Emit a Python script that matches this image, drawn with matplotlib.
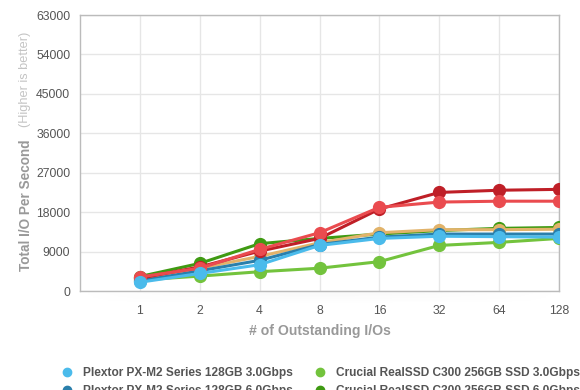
import numpy as np
import matplotlib.pyplot as plt

plt.rcParams["font.family"] = ["Liberation Sans", "DejaVu Sans"]

queue_depths = ["1", "2", "4", "8", "16", "32", "64", "128"]

plextor_3g = [2000, 4000, 6000, 10400, 12000, 12500, 12400, 12300]
plextor_6g = [2300, 4600, 7000, 10600, 12300, 13000, 13000, 13000]
c300_3g = [2500, 3400, 4400, 5200, 6700, 10400, 11100, 12000]
c300_6g = [3300, 6300, 10800, 12000, 13000, 13800, 14300, 14500]
orange_series = [3000, 5200, 7900, 11000, 13300, 14000, 14000, 14100]
red_series = [3200, 5200, 9500, 13300, 19100, 20300, 20500, 20500]
darkred_series = [2900, 5500, 9100, 12000, 18700, 22500, 23000, 23200]

y_ticks = [0, 9000, 18000, 27000, 36000, 45000, 54000, 63000]

# (label, values, colour) in legend order: column 1 then column 2
series = [
    ("Plextor PX-M2 Series 128GB 3.0Gbps", plextor_3g, "#4bbbeb"),
    ("Plextor PX-M2 Series 128GB 6.0Gbps", plextor_6g, "#2a7fab"),
    ("Plextor PX-M2 Series 256GB 6.0Gbps", orange_series, "#e2b36a"),
    ("OCZ Vertex 2 120GB 3.0Gbps", red_series, "#ea4b4f"),
    ("Crucial RealSSD C300 256GB SSD 3.0Gbps", c300_3g, "#73c33d"),
    ("Crucial RealSSD C300 256GB SSD 6.0Gbps", c300_6g, "#3f9a12"),
    ("OCZ Vertex 2 120GB 6.0Gbps", darkred_series, "#bf1f27"),
]
zorders = [9, 6, 5, 8, 4, 3, 7]

fig = plt.figure(figsize=(5.8, 3.9), dpi=100)

# faint shadow under the plot area
sh = fig.add_axes([80 / 580, (390 - 303) / 390, 479 / 580, 12 / 390])
grad = np.linspace(1, 0, 20)[:, None] * np.sin(np.linspace(0, np.pi, 200))[None, :]
sh.imshow(grad, aspect="auto", cmap="Greys", vmin=0, vmax=12, alpha=0.6)
sh.axis("off")

ax = fig.add_axes([80 / 580, 99 / 390, 479 / 580, 276 / 390])

x = list(range(len(queue_depths)))
handles = []
for (label, vals, col), z in zip(series, zorders):
    h, = ax.plot(x, vals, color=col, lw=2.2, marker="o", ms=8.5,
                 mec=col, label=label, zorder=z, solid_capstyle="round")
    handles.append(h)

ax.set_xlim(-1, 7)
ax.set_ylim(0, 63000)
ax.set_xticks(x)
ax.set_xticklabels(queue_depths)
ax.set_yticks(y_ticks)
ax.set_yticklabels([str(v) for v in y_ticks])
ax.tick_params(length=0, labelsize=8.8, colors="#555555", pad=7)
ax.tick_params(axis="x", pad=10)
ax.grid(True, color="#e6e6e6", lw=1)
ax.set_axisbelow(True)
for s in ax.spines.values():
    s.set_color("#bbbbbb")
    s.set_linewidth(1)

fig.text(320 / 580, 1 - 331 / 390, "# of Outstanding I/Os", ha="center",
         va="center", fontsize=10.1, fontweight="bold", color="#999999")
fig.text(26 / 580, 1 - 271 / 390, "Total I/O Per Second", rotation=90,
         ha="center", va="bottom", fontsize=9.8, fontweight="bold",
         color="#999999")
fig.text(25 / 580, 1 - 127 / 390, "(Higher is better)", rotation=90,
         ha="center", va="bottom", fontsize=9.2, color="#c4c4c4")

leg = fig.legend(handles=handles, ncol=2, loc="upper left",
                 bbox_to_anchor=(56 / 580, 1 - 361 / 390), frameon=False,
                 fontsize=8.6, handlelength=0.8, handletextpad=0.94,
                 columnspacing=1.85, labelspacing=0.5, borderpad=0)
for h in leg.legend_handles:
    h.set_linestyle("none")
    h.set_markersize(6)
for t in leg.get_texts():
    t.set_color("#555555")
    t.set_fontweight("bold")

fig.savefig("out.png", dpi=100)
